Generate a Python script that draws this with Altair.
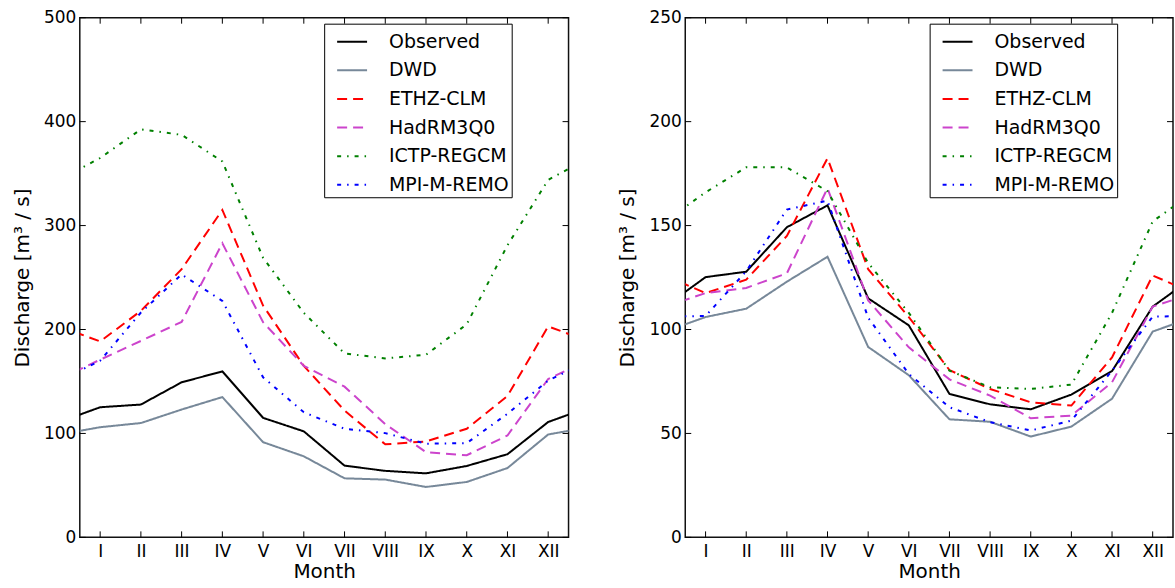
import altair as alt
import pandas as pd

# ---------------- data ----------------
months = ["I", "II", "III", "IV", "V", "VI", "VII", "VIII", "IX", "X", "XI", "XII"]
series_names = ["Observed", "DWD", "ETHZ-CLM", "HadRM3Q0", "ICTP-REGCM", "MPI-M-REMO"]
series_colors = ["#000000", "#778899", "#ff0000", "#cc44cc", "#008000", "#0000ff"]
series_dashes = [[1, 0], [1, 0], [10, 6], [10, 6], [4, 6, 1.5, 6], [4, 6, 1.5, 6]]

observed = [125.2, 127.8, 149.2, 159.7, 115.0, 102.0, 69.0, 64.0, 61.6, 68.7, 80.0, 111.0]
dwd = [106.0, 110.0, 123.0, 135.0, 91.6, 78.0, 56.8, 55.6, 48.5, 53.3, 66.7, 99.0]

left_ethz = [188.5, 218.0, 258.0, 315.0, 223.0, 165.0, 122.0, 89.5, 92.3, 104.5, 136.0, 203.0]
left_hadrm = [171.0, 189.0, 207.3, 283.0, 207.0, 165.0, 145.0, 109.0, 82.0, 79.0, 98.0, 152.4]
left_ictp = [365.0, 392.6, 387.3, 361.7, 269.0, 216.0, 177.0, 172.2, 175.7, 205.0, 281.0, 344.0]
left_mpi = [170.0, 216.3, 253.0, 227.5, 154.0, 120.4, 104.5, 100.3, 90.1, 90.7, 118.9, 150.8]

right_ethz = [117.5, 124.0, 145.0, 182.4, 129.0, 106.0, 80.5, 71.4, 65.0, 63.4, 86.6, 126.0]
right_hadrm = [117.5, 120.0, 127.0, 168.0, 114.0, 91.4, 76.0, 68.2, 57.3, 58.6, 74.6, 111.0]
right_ictp = [166.0, 178.0, 178.0, 166.5, 132.0, 108.0, 80.2, 72.2, 71.4, 73.5, 108.0, 152.0]
right_mpi = [106.5, 128.0, 157.7, 162.0, 105.7, 78.6, 62.6, 55.4, 51.4, 56.2, 80.2, 106.2]

left_yticks = [0, 100, 200, 300, 400, 500]
right_yticks = [0, 50, 100, 150, 200, 250]
month_ticks = list(range(1, 13))

FONT = "DejaVu Sans"
W, H = 490, 521
TICK = 6


def build_df(pairs):
    rows = []
    for name, vals in pairs:
        ext = [vals[-1]] + list(vals) + [vals[0]]  # periodic wrap (Dec before Jan, Jan after Dec)
        for i, v in enumerate(ext):
            rows.append({"month": i, "discharge": v, "series": name})
    return pd.DataFrame(rows)


label_expr = "[" + ",".join("'" + m + "'" for m in [""] + months) + "][datum.value]"


def panel(df, yticks, width):
    ymax = yticks[-1]
    xscale = alt.Scale(domain=[0.5, 12.5], nice=False, zero=False)
    yscale = alt.Scale(domain=[0, ymax], nice=False)
    xaxis = alt.Axis(values=month_ticks, labelExpr=label_expr, title="Month",
                     labelPadding=6, titlePadding=2)
    yaxis = alt.Axis(values=yticks, title="Discharge [m³ / s]",
                     labelPadding=4, titlePadding=11)
    leg = alt.Legend(
        title=None,
        orient="none",
        legendX=245,
        legendY=6,
        symbolType="stroke",
        symbolSize=900,
        symbolStrokeWidth=2,
        symbolOffset=10,
        labelFont=FONT,
        labelFontSize=19,
        labelColor="black",
        labelOffset=21,
        labelLimit=300,
        rowPadding=2.7,
        padding=2,
        strokeColor="black",
        fillColor="white",
    )
    lines = alt.Chart(df).mark_line(clip=True, strokeWidth=2).encode(
        x=alt.X("month:Q", scale=xscale, axis=xaxis),
        y=alt.Y("discharge:Q", scale=yscale, axis=yaxis),
        color=alt.Color(
            "series:N",
            scale=alt.Scale(domain=series_names, range=series_colors),
            legend=leg,
        ),
        strokeDash=alt.StrokeDash(
            "series:N",
            scale=alt.Scale(domain=series_names, range=series_dashes),
            legend=leg,
        ),
    )
    mdf = pd.DataFrame({"month": month_ticks})
    ydf = pd.DataFrame({"discharge": yticks})
    tx = alt.X("month:Q", scale=xscale, axis=xaxis)
    ty = alt.Y("discharge:Q", scale=yscale, axis=yaxis)
    xb = alt.Chart(mdf).mark_rule(color="black", strokeWidth=1).encode(
        x=tx, y=alt.value(H), y2=alt.value(H - TICK))
    xt = alt.Chart(mdf).mark_rule(color="black", strokeWidth=1).encode(
        x=tx, y=alt.value(0), y2=alt.value(TICK))
    yl = alt.Chart(ydf).mark_rule(color="black", strokeWidth=1).encode(
        y=ty, x=alt.value(0), x2=alt.value(TICK))
    yr = alt.Chart(ydf).mark_rule(color="black", strokeWidth=1).encode(
        y=ty, x=alt.value(width), x2=alt.value(width - TICK))
    return alt.layer(lines, xb, xt, yl, yr).properties(width=width, height=H)


left_df = build_df([
    ("Observed", observed), ("DWD", dwd), ("ETHZ-CLM", left_ethz),
    ("HadRM3Q0", left_hadrm), ("ICTP-REGCM", left_ictp), ("MPI-M-REMO", left_mpi),
])
right_df = build_df([
    ("Observed", observed), ("DWD", dwd), ("ETHZ-CLM", right_ethz),
    ("HadRM3Q0", right_hadrm), ("ICTP-REGCM", right_ictp), ("MPI-M-REMO", right_mpi),
])

chart = (
    alt.hconcat(panel(left_df, left_yticks, W), panel(right_df, right_yticks, 489), spacing=46)
    .resolve_scale(color="independent", strokeDash="independent", x="independent", y="independent")
    .configure_view(stroke="#111111", strokeWidth=1.5)
    .configure_axis(
        labelFont=FONT,
        titleFont=FONT,
        labelFontSize=17,
        titleFontSize=20,
        titleFontWeight="normal",
        labelColor="black",
        titleColor="black",
        ticks=False,
        tickSize=0,
        domain=False,
        grid=False,
    )
    .properties(padding={"left": 11, "top": 7, "right": 0, "bottom": 0}, background="white")
)

chart.save("out.html", embed_options={"renderer": "svg", "actions": False})
